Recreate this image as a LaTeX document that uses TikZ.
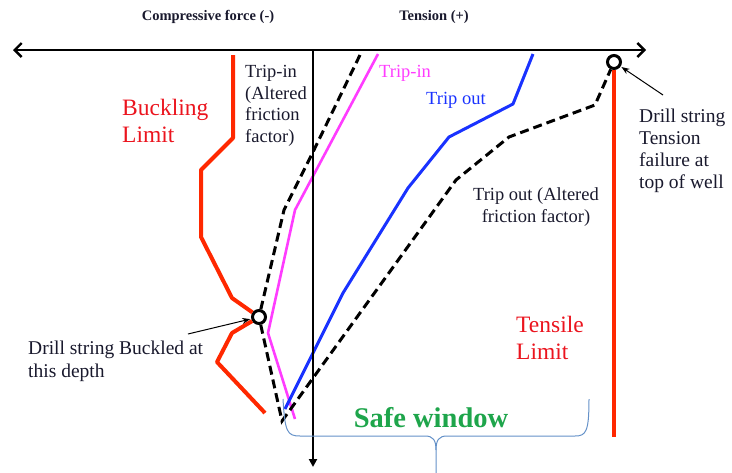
\documentclass[tikz,border=0pt]{standalone}
\usepackage{fontspec}
\setmainfont{Liberation Serif}
\usetikzlibrary{arrows.meta}

\definecolor{limitred}{RGB}{255,40,0}
\definecolor{labelred}{RGB}{235,20,30}
\definecolor{tripmag}{RGB}{255,60,255}
\definecolor{tripblue}{RGB}{25,50,255}
\definecolor{ink}{RGB}{25,25,45}
\definecolor{safegreen}{RGB}{30,165,75}
\definecolor{bracecol}{RGB}{100,145,200}

\begin{document}
\begin{tikzpicture}[x=1pt, y=-1pt,
            axisline/.style={line width=2.4pt, black},
            limitline/.style={line width=4pt, limitred, line join=round},
            tripinline/.style={line width=2.6pt, tripmag, line join=round},
            tripoutline/.style={line width=3pt, tripblue, line join=round},
            alteredline/.style={line width=3pt, black, dash pattern=on 9pt off 5pt},
            failmark/.style={circle, draw=black, line width=3pt, fill=white,
                        minimum size=13pt, inner sep=0pt},
            notearrow/.style={-{Stealth[length=8pt,width=6pt]}, line width=1pt, shorten >=1pt},
            lbl/.style={inner sep=0pt, align=left, text=ink,
                        font=\fontsize{18.5}{21.6}\selectfont},
            biglbl/.style={inner sep=0pt, align=left, text=labelred,
                        font=\fontsize{23.5}{26.5}\selectfont},
            axislbl/.style={inner sep=0pt, text=ink, font=\bfseries\fontsize{14.5}{16}\selectfont}
        ]
        \useasboundingbox (0,0) rectangle (732,472);

        % --- failure points ---
        \node[failmark] (buckle) at (259,317) {};
        \node[failmark] (tens) at (614,62) {};

        % --- limits ---
        \draw[limitline] (233,55) -- (233,138) -- (201,170) -- (201,237) -- (232,298)
            -- (buckle) -- (232,333) -- (217,362) -- (265,413);
        \draw[limitline] (tens) -- (614,437);

        % --- hook load curves ---
        \draw[tripinline] (378,54) -- (295,210) -- (268,333) -- (295,419);
        \draw[tripoutline] (533,54) -- (513,104) -- (449,137) -- (408,188)
            -- (343,293) -- (285,409);
        \draw[alteredline] (360,55) -- (313,152) -- (284,210) -- (buckle)
            -- (282,421) -- (456,180) -- (509,137) -- (595,105) -- (tens);

        % --- axes ---
        \coordinate (xl) at (13,50);
        \coordinate (xr) at (646,50);
        \coordinate (yt) at (313,50);
        \coordinate (yb) at (313,467);
        \draw[axisline, {Straight Barb[length=7pt,width=14pt]}-{Straight Barb[length=7pt,width=14pt]}]
            (xl) -- (xr);
        \draw[axisline, -{Triangle[length=8pt,width=8pt]}] (yt) -- (yb);
        \node[axislbl] (comp) at (208,17) {Compressive force (-)};
        \node[axislbl] (tensn) at (434,17) {Tension (+)};

        % --- labels ---
        \node[biglbl, anchor=west] (buckllbl) at (122,121) {Buckling\\Limit};
        \node[biglbl, anchor=west] (tenslbl) at (516,338) {Tensile\\Limit};
        \node[lbl, anchor=west] (tripinalt) at (245,106) {Trip-in\\(Altered\\friction\\factor)};
        \node[lbl, anchor=west, text=tripmag] (tripin) at (379,73) {Trip-in};
        \node[lbl, anchor=west, text=tripblue] (tripout) at (426,100) {Trip out};
        \node[lbl, align=center] (tripoutalt) at (536,207) {Trip out (Altered\\friction factor)};
        \node[lbl, anchor=west, font=\fontsize{19.5}{22}\selectfont] (tensnote) at (639,151)
            {Drill string\\Tension\\failure at\\top of well};
        \node[lbl, anchor=west, font=\fontsize{19.5}{23}\selectfont] (bucknote) at (28,361)
            {Drill string Buckled at\\this depth};

        % --- pointers ---
        \coordinate (tenstail) at (663,95);
        \coordinate (bucktail) at (188,334);
        \draw[notearrow] (tenstail) -- (tens);
        \draw[notearrow] (bucktail) -- (buckle);

        % --- safe window brace ---
        \draw[bracecol, line width=1pt]
            (283,399) .. controls (285,432) and (287,436) .. (300,436) -- (425,436)
            .. controls (433,436) and (436,440) .. (436,450) -- (436,475);
        \draw[bracecol, line width=1pt]
            (589,399) .. controls (589,432) and (586,436) .. (575,436) -- (447,436)
            .. controls (439,436) and (436,440) .. (436,450);
        \node[inner sep=0pt, text=safegreen, font=\bfseries\fontsize{28.5}{30}\selectfont]
            (safe) at (431,418) {Safe window};
\end{tikzpicture}
\end{document}
